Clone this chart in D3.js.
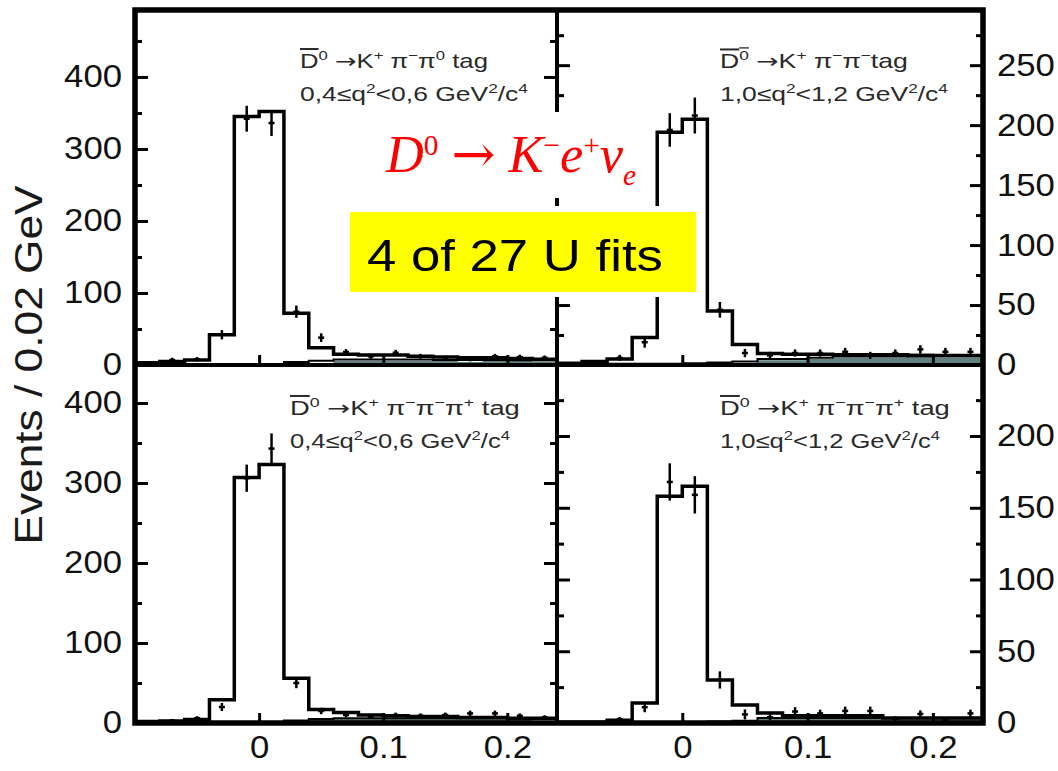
<!DOCTYPE html>
<html>
<head>
<meta charset="utf-8">
<script src="https://cdn.jsdelivr.net/npm/d3@7"></script>
<style>
body { margin: 0; background: #fff; }
svg { display: block; }
text { font-family: "Liberation Sans", Arial, Helvetica, sans-serif; }
</style>
</head>
<body>
<svg id="chart" width="1058" height="771"></svg>
<script>
// histogram binning (GeV)
var binEdges = [-0.10, -0.08, -0.06, -0.04, -0.02, 0.00, 0.02, 0.04, 0.06, 0.08, 0.10, 0.12, 0.14, 0.16, 0.18, 0.20, 0.22, 0.24];
var binCenters = [-0.09, -0.07, -0.05, -0.03, -0.01, 0.01, 0.03, 0.05, 0.07, 0.09, 0.11, 0.13, 0.15, 0.17, 0.19, 0.21, 0.23];
var xTicks = [0, 0.1, 0.2];
var xTickLabels = ["0", "0.1", "0.2"];

// top left: K+ pi- pi0 tag, 0.4 <= q2 < 0.6
var tlTotal = [3, 5, 7, 42, 345, 352, 72, 24, 15, 14, 14, 12, 11, 10, 10, 9, 8];
var tlBkg   = [1, 1, 1, 1, 1, 1, 4, 6, 7.5, 7.5, 7.5, 7.5, 7, 7, 7, 6.5, 6.5];
var tlGrey  = [0, 0, 0, 0, 0, 0, 0, 0, 6, 6, 6, 6, 6, 4, 6, 6, 5];
var tlData  = [0, 7, 8, 42, 342, 336, 74, 38, 18, 12, 17, 12, 9, 8, 12, 11, 10];
var tlErr   = [1, 3, 3, 6.5, 18, 18, 8.5, 6, 4, 3.5, 4, 3.5, 3, 3, 3.5, 3.3, 3.2];
var tlMajor = [0, 100, 200, 300, 400];
var tlMinor = [50, 150, 250, 350, 450];

// top right: K+ pi- pi- tag, 1.0 <= q2 < 1.2
var trTotal = [1.5, 3, 5, 23, 194, 205, 45, 17, 9.5, 9, 9, 8.5, 8.5, 8.5, 8, 8, 8];
var trBkg   = [0.5, 0.5, 1, 1, 1, 1.5, 2, 3, 5, 5, 6, 7, 7, 7, 8.5, 7.5, 7.5];
var trGrey  = [0, 0, 0, 0, 0, 0, 0, 0, 4, 4, 5, 6, 6, 6, 7.5, 6.5, 6.5];
var trData  = [0, 0, 6, 19, 196, 208, 46, 10, 8, 10, 10, 11, 8, 10, 13, 11, 11];
var trErr   = [1, 1, 2.5, 4.5, 14, 15, 6.5, 3.5, 3, 3, 3, 3.3, 3, 3, 3.5, 3.3, 3.3];
var trMajor = [0, 50, 100, 150, 200, 250];
var trMinor = [25, 75, 125, 175, 225, 275];

// bottom left: K+ pi- pi- pi+ tag, 0.4 <= q2 < 0.6
var blTotal = [2, 2.5, 4.5, 29, 307, 323, 56, 17, 13, 10, 9, 8, 8, 7, 7, 6, 6];
var blBkg   = [1, 1, 1, 1, 1, 1, 3, 5, 6, 6, 6, 6, 6, 6, 6, 5.5, 5.5];
var blGrey  = [0, 0, 0, 0, 0, 0, 0, 5, 5, 5, 5, 5, 5, 5, 5, 5, 0];
var blData  = [0, 3, 6, 20, 306, 343, 50, 15, 10, 8, 10, 9, 10, 12, 12, 9, 7];
var blErr   = [1, 2, 2.5, 5, 17, 19, 6.5, 4, 3, 3, 3, 3, 3, 3.5, 3.5, 3, 2.7];
var blMajor = [0, 100, 200, 300, 400];
var blMinor = [50, 150, 250, 350];

// bottom right: K+ pi- pi- pi+ tag, 1.0 <= q2 < 1.2
var brTotal = [0.5, 0.5, 2, 14, 158, 165, 30, 12.5, 7, 5, 5, 5, 5, 3.5, 3.5, 3.5, 3.5];
var brBkg   = [0.3, 0.3, 0.5, 0.5, 0.5, 0.5, 1, 1.5, 3.5, 3.5, 3.5, 3.5, 3.5, 3.5, 3.5, 3.5, 3.5];
var brGrey  = [0, 0, 0, 0, 0, 0, 0, 0, 3, 3, 3, 3, 3, 3, 3, 3, 3];
var brData  = [0, 0, 2.6, 11, 168, 159, 30, 6, 4, 8, 6.7, 8.4, 8.4, 3, 6.3, 2, 6.7];
var brErr   = [1, 1, 1.6, 3.5, 13, 13, 6, 3.5, 2, 3, 2.6, 3, 3, 1.7, 2.5, 1.4, 2.6];
var brMajor = [0, 50, 100, 150, 200];
var brMinor = [25, 75, 125, 175, 225];

// panel captions (a: arrow glyph, drawn with a wider font)
var tagK2pi0 = [{t:"D", o:1}, {t:"0", m:"sup"}, {t:" "}, {t:"\u2192", a:1}, {t:"K"}, {t:"+", m:"sup"}, {t:" \u03c0"}, {t:"\u2212", m:"sup"}, {t:"\u03c0"}, {t:"0", m:"sup"}, {t:" tag"}];
var tagK2pi  = [{t:"D", o:1}, {t:"0", m:"sup", o:1}, {t:" "}, {t:"\u2192", a:1}, {t:"K"}, {t:"+", m:"sup"}, {t:" \u03c0"}, {t:"\u2212", m:"sup"}, {t:"\u03c0"}, {t:"\u2212", m:"sup"}, {t:"tag"}];
var tagK3pi  = [{t:"D", o:1}, {t:"0", m:"sup"}, {t:" "}, {t:"\u2192", a:1}, {t:"K"}, {t:"+", m:"sup"}, {t:" \u03c0"}, {t:"\u2212", m:"sup"}, {t:"\u03c0"}, {t:"\u2212", m:"sup"}, {t:"\u03c0"}, {t:"+", m:"sup"}, {t:" tag"}];
var q2Low  = [{t:"0,4\u2264q"}, {t:"2", m:"sup"}, {t:"<0,6 GeV"}, {t:"2", m:"sup"}, {t:"/c"}, {t:"4", m:"sup"}];
var q2High = [{t:"1,0\u2264q"}, {t:"2", m:"sup"}, {t:"<1,2 GeV"}, {t:"2", m:"sup"}, {t:"/c"}, {t:"4", m:"sup"}];
var decay  = [{t:"D", i:1}, {t:"0", m:"sup"}, {t:" "}, {t:"\u2192", a:1}, {t:" "}, {t:"K", i:1}, {t:"\u2212", m:"sup"}, {t:"e", i:1}, {t:"+", m:"sup"}, {t:"\u03bd", i:1}, {t:"e", m:"sub", i:1}];
var yTitle = "Events / 0.02 GeV";
var boxText = "4 of 27 U fits";

var GREY = "#62807e";
var LABEL_SX = 1.12;
var SERIF = "'Liberation Serif', 'Times New Roman', serif";

var panels = [
    {x0:135, x1:557, y0:10, y1:365, ymax:493, total:tlTotal, bkg:tlBkg, grey:tlGrey, data:tlData, err:tlErr,
     major:tlMajor, minor:tlMinor, side:"left", xlab:false, tag:tagK2pi0, q2:q2Low, tx:300, tagW:188, q2W:228, ty:68},
    {x0:557, x1:983, y0:10, y1:365, ymax:296, total:trTotal, bkg:trBkg, grey:trGrey, data:trData, err:trErr,
     major:trMajor, minor:trMinor, side:"right", xlab:false, tag:tagK2pi, q2:q2High, tx:720, tagW:188, q2W:228, ty:68},
    {x0:135, x1:557, y0:365, y1:723, ymax:447.5, total:blTotal, bkg:blBkg, grey:blGrey, data:blData, err:blErr,
     major:blMajor, minor:blMinor, side:"left", xlab:true, tag:tagK3pi, q2:q2Low, tx:290, tagW:230, q2W:220, ty:415},
    {x0:557, x1:983, y0:365, y1:723, ymax:249.5, total:brTotal, bkg:brBkg, grey:brGrey, data:brData, err:brErr,
     major:brMajor, minor:brMinor, side:"right", xlab:true, tag:tagK3pi, q2:q2High, tx:720, tagW:230, q2W:220, ty:415}
];

var svg = d3.select("#chart");

function steps(vals) {
    var pts = vals.map(function(v, i) { return [binEdges[i], v]; });
    pts.push([binEdges[vals.length], vals[vals.length - 1]]);
    return pts;
}

function richText(parent, x, y, segs, size, supShift, subShift, ratio, arrowFont) {
    var t = parent.append("text").attr("x", x).attr("y", y)
        .style("font-size", size + "px").style("white-space", "pre");
    var cur = 0;
    segs.forEach(function(s) {
        var ts = t.append("tspan").text(s.t);
        var target = 0, fs = size;
        if (s.m === "sup") { target = -size * supShift; fs = size * ratio; }
        if (s.m === "sub") { target = size * subShift; fs = size * ratio; }
        ts.attr("dy", target - cur);
        cur = target;
        ts.style("font-size", fs + "px");
        if (s.i) ts.style("font-style", "italic");
        if (s.o) ts.style("text-decoration", "overline");
        if (s.a) ts.style("font-family", arrowFont);
    });
    return t;
}

// stretch a start-anchored text horizontally so it spans w pixels
function fitWidth(t, x, w) {
    var bw = t.node().getBBox().width;
    var sx = w / bw;
    t.attr("transform", "translate(" + x + ",0) scale(" + sx + ",1) translate(" + (-x) + ",0)");
}

function stretchTicks(ax) {
    ax.selectAll("text").each(function() {
        var el = d3.select(this);
        var xx = +el.attr("x") || 0;
        el.attr("x", xx / LABEL_SX).attr("transform", "scale(" + LABEL_SX + ",1)");
    });
}

function styleAxis(ax) {
    ax.select(".domain").remove();
    ax.selectAll("line").attr("stroke", "#000").attr("stroke-width", 3);
    ax.selectAll("text").attr("fill", "#111").style("font-size", "31px")
        .style("font-family", "'Liberation Sans', Arial, sans-serif");
}

panels.forEach(function(p) {
    var x = d3.scaleLinear().domain([binEdges[0], binEdges[binEdges.length - 1]]).range([p.x0, p.x1]);
    var y = d3.scaleLinear().domain([0, p.ymax]).range([p.y1, p.y0]);
    var g = svg.append("g");

    var area = d3.area().curve(d3.curveStepAfter)
        .x(function(d) { return x(d[0]); }).y0(y(0)).y1(function(d) { return y(d[1]); });
    var line = d3.line().curve(d3.curveStepAfter)
        .x(function(d) { return x(d[0]); }).y(function(d) { return y(d[1]); });

    g.append("path").attr("d", area(steps(p.grey))).attr("fill", GREY);
    g.append("path").attr("d", line(steps(p.bkg))).attr("fill", "none")
        .attr("stroke", "#000").attr("stroke-width", 2);
    g.append("path").attr("d", line(steps(p.total))).attr("fill", "none")
        .attr("stroke", "#000").attr("stroke-width", 3.5).attr("stroke-linejoin", "miter");

    // data points with error bars
    var pts = g.selectAll(".pt")
        .data(binCenters.map(function(c, i) { return {c: c, v: p.data[i], e: p.err[i]}; }))
        .enter().append("g").attr("class", "pt");
    pts.append("line")
        .attr("x1", function(d) { return x(d.c); }).attr("x2", function(d) { return x(d.c); })
        .attr("y1", function(d) { return y(d.v - d.e); }).attr("y2", function(d) { return y(d.v + d.e); })
        .attr("stroke", "#000").attr("stroke-width", 2.5);
    pts.append("line")
        .attr("x1", function(d) { return x(d.c) - 3; }).attr("x2", function(d) { return x(d.c) + 3; })
        .attr("y1", function(d) { return y(d.v); }).attr("y2", function(d) { return y(d.v); })
        .attr("stroke", "#000").attr("stroke-width", 2.5);

    // y axes, ticks inward on both sides
    var left = g.append("g").attr("transform", "translate(" + p.x0 + ",0)")
        .call(d3.axisLeft(y).tickValues(p.major).tickSize(-13).tickPadding(13)
            .tickFormat(p.side === "left" ? d3.format("d") : function() { return ""; }));
    var leftMinor = g.append("g").attr("transform", "translate(" + p.x0 + ",0)")
        .call(d3.axisLeft(y).tickValues(p.minor).tickSize(-7).tickFormat(function() { return ""; }));
    var right = g.append("g").attr("transform", "translate(" + p.x1 + ",0)")
        .call(d3.axisRight(y).tickValues(p.major).tickSize(-13).tickPadding(14)
            .tickFormat(p.side === "right" ? d3.format("d") : function() { return ""; }));
    var rightMinor = g.append("g").attr("transform", "translate(" + p.x1 + ",0)")
        .call(d3.axisRight(y).tickValues(p.minor).tickSize(-7).tickFormat(function() { return ""; }));
    var bottom = g.append("g").attr("transform", "translate(0," + p.y1 + ")")
        .call(d3.axisBottom(x).tickValues(xTicks).tickSize(-10).tickPadding(13)
            .tickFormat(function(d, i) { return p.xlab ? xTickLabels[i] : ""; }));
    [left, leftMinor, right, rightMinor, bottom].forEach(styleAxis);
    [left, right, bottom].forEach(stretchTicks);

    g.append("rect").attr("x", p.x0).attr("y", p.y0)
        .attr("width", p.x1 - p.x0).attr("height", p.y1 - p.y0)
        .attr("fill", "none").attr("stroke", "#000").attr("stroke-width", 4);

    // captions
    var cap = g.append("g").attr("fill", "#2a2a2a");
    var t1 = richText(cap, p.tx, p.ty, p.tag, 20, 0.4, 0.2, 0.65, "'DejaVu Sans', sans-serif");
    fitWidth(t1, p.tx, p.tagW);
    var t2 = richText(cap, p.tx, p.ty + 33, p.q2, 20, 0.4, 0.2, 0.65, "'DejaVu Sans', sans-serif");
    fitWidth(t2, p.tx, p.q2W);
});

// outer frame
svg.append("rect").attr("x", 135).attr("y", 10).attr("width", 848).attr("height", 713)
    .attr("fill", "none").attr("stroke", "#000").attr("stroke-width", 5.5);

// y axis title
var title = svg.append("text").attr("text-anchor", "middle")
    .style("font-size", "38px").attr("fill", "#1a1a1a").text(yTitle);
var tw = title.node().getBBox().width;
title.attr("transform", "translate(42,365) rotate(-90) scale(" + (360 / tw) + ",1)");

// red decay label on white
svg.append("rect").attr("x", 376).attr("y", 112).attr("width", 275).attr("height", 86).attr("fill", "#fff");
var dec = richText(svg.append("g").attr("fill", "#ff0000"),
    386, 172, decay, 52, 0.32, 0.25, 0.56, "'DejaVu Serif', serif");
dec.style("font-family", SERIF);
fitWidth(dec, 386, 251);

// yellow box
svg.append("rect").attr("x", 344).attr("y", 206).attr("width", 358).attr("height", 91).attr("fill", "#fff");
svg.append("rect").attr("x", 350).attr("y", 212).attr("width", 346).attr("height", 80).attr("fill", "#ffff00");
var bt = svg.append("text").attr("x", 367).attr("y", 271).style("font-size", "44px")
    .style("white-space", "pre").attr("fill", "#000").text(boxText);
fitWidth(bt, 367, 296);
</script>
</body>
</html>
